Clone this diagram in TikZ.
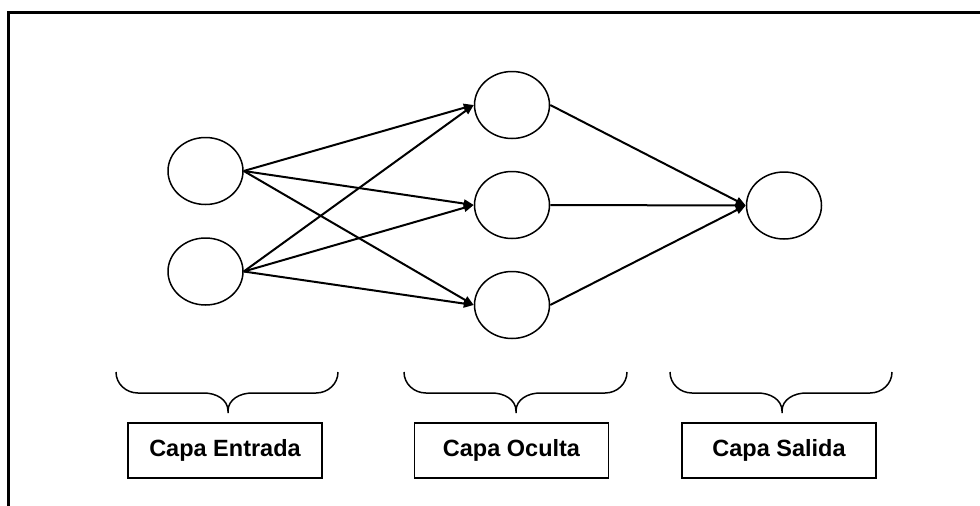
\documentclass[tikz,border=0pt]{standalone}
\usepackage{fontspec}
\setmainfont{Liberation Sans}
\usetikzlibrary{shapes.geometric,arrows.meta}
\tikzset{
  neuron/.style={draw, ellipse, line width=1.5pt, minimum width=75pt, minimum height=67pt, inner sep=0pt},
  conn/.style={line width=2pt, -{Triangle[length=10pt,width=8pt]}},
  layerbox/.style={draw, line width=1.7pt, minimum width=194pt, minimum height=55pt, inner sep=0pt, font=\fontsize{23.5}{27}\selectfont\bfseries},
  bracepath/.style={line width=1.5pt},
  frameline/.style={line width=3pt}
}
\begin{document}
\begin{tikzpicture}[x=1pt,y=-1pt]
\useasboundingbox (0,0) rectangle (980,506);
% frame
\coordinate (fl) at (8,506);
\coordinate (fc) at (8,12);
\coordinate (fr) at (980,12);
\draw[frameline] (fl) -- (fc) -- (fr);
% neurons
\node[neuron] (i1) at (205.5,171) {};
\node[neuron] (i2) at (205.5,271.5) {};
\node[neuron] (h1) at (512,105) {};
\node[neuron] (h2) at (512,205) {};
\node[neuron] (h3) at (512,305) {};
\node[neuron] (o) at (784,205.5) {};
% connections
\foreach \s in {i1,i2}{
  \foreach \t in {h1,h2,h3}{
    \draw[conn] (\s.east) -- (\t.west);
  }
}
\foreach \s in {h1,h2,h3}{
  \draw[conn] (\s.east) -- (o.west);
}
% braces
\foreach \xa/\xm/\xb in {116/228/338, 404/516/627, 670/782/892}{
  \draw[bracepath] (\xa,372) to[out=-90,in=180] (\xa+22,393) -- (\xm-24,393)
     to[out=0,in=90] (\xm,411) -- (\xm,413);
  \draw[bracepath] (\xb,372) to[out=-90,in=0] (\xb-22,393) -- (\xm+24,393)
     to[out=180,in=90] (\xm,411);
}
% labels
\node[layerbox] (le) at (225,450.5) {Capa Entrada};
\node[layerbox] (lo) at (511.5,450.5) {Capa Oculta};
\node[layerbox] (ls) at (779,450.5) {Capa Salida};
\end{tikzpicture}
\end{document}
